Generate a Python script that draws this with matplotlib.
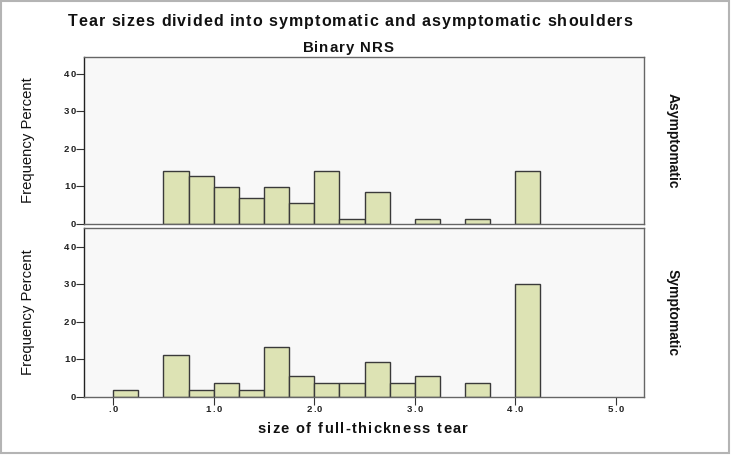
import numpy as np
import matplotlib
matplotlib.use("Agg")
from matplotlib import pyplot as plt
from matplotlib.patches import Rectangle
from matplotlib.font_manager import FontProperties

FAMILY = ['Liberation Sans', 'DejaVu Sans']
plt.rcParams['font.family'] = FAMILY

# --- data: histogram bins of width 0.25, percent within each group ---
bin_left = [0.0, 0.25, 0.5, 0.75, 1.0, 1.25, 1.5, 1.75, 2.0, 2.25,
            2.5, 2.75, 3.0, 3.25, 3.5, 3.75, 4.0]
asym_pct = [0, 0, 14.1, 12.7, 9.9, 7.0, 9.9, 5.6, 14.1, 1.4,
            8.5, 0, 1.4, 0, 1.4, 0, 14.1]
sym_pct = [1.9, 0, 11.3, 1.9, 3.8, 1.9, 13.2, 5.7, 3.8, 3.8,
           9.4, 3.8, 5.7, 0, 3.8, 0, 30.2]
bin_width = 0.25
groups = ["Asymptomatic", "Symptomatic"]
yticks = [0, 10, 20, 30, 40]
xticks = [0, 1, 2, 3, 4, 5]
xticklabels = [".0", "1.0", "2.0", "3.0", "4.0", "5.0"]

W, H = 731, 455
fig = plt.figure(figsize=(W / 100, H / 100), dpi=100)
fig.patch.set_facecolor("white")
renderer = fig.canvas.get_renderer()

def fx(px): return px / W
def fy(py): return 1 - py / H

def tracked(x, y, s, size, weight="normal", track=0.0, width=None,
            ha="center", color="#111111"):
    """draw text char by char with extra letter spacing; x, y in px from top-left, y = baseline"""
    prop = FontProperties(family=FAMILY, size=size, weight=weight)
    tw = lambda t: renderer.get_text_width_height_descent(t, prop, ismath=False)[0]
    base = tw("xx")
    adv = [tw("x" + c + "x") - base for c in s]
    if width is not None and len(s) > 1:
        track = (width - sum(adv)) / (len(s) - 1)
    total = sum(adv) + track * (len(s) - 1)
    cur = {"left": x, "center": x - total / 2, "right": x - total}[ha]
    for c, a in zip(s, adv):
        if c != " ":
            fig.text(fx(cur), fy(y), c, ha="left", va="baseline",
                     fontproperties=prop, color=color)
        cur += a + track

bar_col = "#dde3b4"
edge_col = "#3a3a3a"
bg_col = "#f8f8f8"

ax_top = fig.add_axes([fx(84), fy(224), fx(644) - fx(84), fy(57) - fy(224)])
ax_bot = fig.add_axes([fx(84), fy(397), fx(644) - fx(84), fy(228) - fy(397)])

for ax, vals, name, ytop in [(ax_top, asym_pct, groups[0], 44.5),
                             (ax_bot, sym_pct, groups[1], 45.0)]:
    ax.set_facecolor(bg_col)
    xs = [b for b, v in zip(bin_left, vals) if v > 0]
    hs = [v for v in vals if v > 0]
    ax.bar(xs, hs, width=bin_width, align="edge", color=bar_col,
           edgecolor=edge_col, linewidth=1.0, zorder=2)
    ax.set_xlim(-0.29, 5.28)
    ax.set_ylim(0, ytop)
    ax.set_yticks(yticks)
    ax.set_yticklabels([])
    ax.set_xticks([])
    ax.tick_params(axis="y", direction="out", length=6, width=0.8,
                   color="#333333")
    for s in ["top", "right", "bottom"]:
        ax.spines[s].set_color("#666666")
        ax.spines[s].set_linewidth(1.0)
    ax.spines["left"].set_color("#222222")
    ax.spines["left"].set_linewidth(1.0)
    ax.set_ylabel("Frequency Percent", fontsize=10.7, color="#111111",
                  va="center")
    ax.yaxis.set_label_coords(-0.1, 0.5)
    ax.text(1.051, 0.5, name, transform=ax.transAxes, rotation=-90,
            ha="center", va="center", fontsize=10, fontweight="bold",
            color="#111111")
    # y tick labels, letter-spaced
    for v in yticks:
        py = H - ax.transData.transform((0, v))[1]
        tracked(76, py + 3.0, str(v), 6.8, weight="bold", track=1.4,
                ha="right", color="#222222")

ax_bot.set_xticks(xticks)
ax_bot.set_xticklabels([])
ax_bot.tick_params(axis="x", direction="out", length=6, width=0.8,
                   color="#333333")
for v, lab in zip(xticks, xticklabels):
    px = ax_bot.transData.transform((v, 0))[0]
    tracked(px, 412.5, lab, 6.8, weight="bold", track=1.4, ha="center",
            color="#222222")

tracked(362.5, 433, "size of full-thickness tear", 10.5, weight="bold", width=211)
tracked(350, 25.7, "Tear sizes divided into symptomatic and asymptomatic shoulders",
        11.5, weight="bold", width=564)
tracked(348, 51.7, "Binary NRS", 10.8, weight="bold", width=91)

# outer grey frame
fig.patches.append(Rectangle((fx(0.8), fy(453)), fx(729) - fx(0.8), fy(0.8) - fy(453),
                             transform=fig.transFigure, fill=False,
                             edgecolor="#b4b4b4", linewidth=1.5))

fig.savefig("out.png", dpi=100, facecolor="white")
